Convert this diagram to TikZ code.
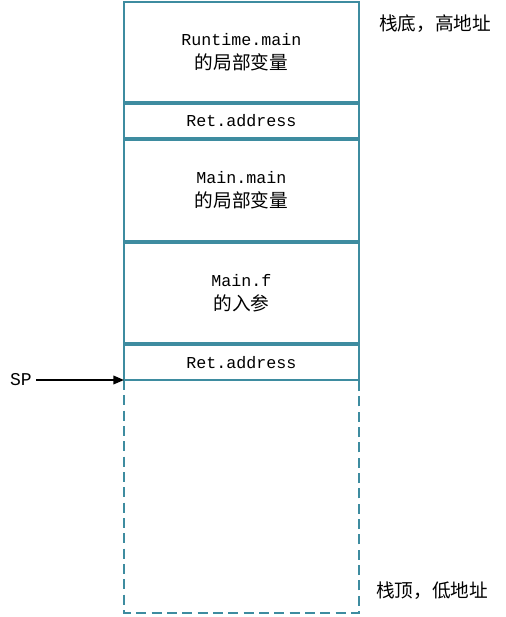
\documentclass[tikz,border=0pt]{standalone}
\usepackage{fontspec}
\setmainfont{Liberation Serif}
\newfontfamily\monofnt{Liberation Mono}
\newfontfamily\cjk{Noto Sans CJK SC}
\usetikzlibrary{arrows.meta}
\definecolor{boxcol}{RGB}{62,140,160}
\begin{document}
\begin{tikzpicture}[x=0.75pt,y=-0.75pt,
  stackbox/.style={draw=boxcol,line width=1pt,inner sep=0pt,outer sep=0pt,
    minimum width=176.25pt,align=center,
    font=\fontsize{12.5pt}{18pt}\selectfont\monofnt},
  cjklbl/.style={font=\fontsize{14pt}{17pt}\selectfont\cjk,inner sep=0pt},
  dashline/.style={draw=boxcol,line width=1pt,dash pattern=on 7.5pt off 4pt},
  sparrow/.style={draw=black,line width=1.2pt,-{Triangle[length=8pt,width=6.5pt]}}]
\useasboundingbox[fill=white] (0,0) rectangle (506,617);
\node[stackbox,minimum height=75pt] (b1) at (241.5,52)
  {Runtime.main\\{\fontsize{14pt}{18pt}\selectfont\cjk 的局部变量}};
\node[stackbox,minimum height=25.5pt] (b2) at (241.5,121) {Ret.address};
\node[stackbox,minimum height=75.75pt] (b3) at (241.5,190.5)
  {Main.main\\{\fontsize{14pt}{18pt}\selectfont\cjk 的局部变量}};
\node[stackbox,minimum height=75pt] (b4) at (241.5,293)
  {Main.f\\{\fontsize{14pt}{18pt}\selectfont\cjk 的入参}};
\node[stackbox,minimum height=26.25pt] (b5) at (241.5,362.5) {Ret.address};
\coordinate (bl) at (124,613);
\coordinate (br) at (359,613);
\path[dashline] (b5.south west) -- (bl) -- (br) -- (b5.south east);
\node[font=\fontsize{13.5pt}{15pt}\selectfont\monofnt,anchor=east,inner sep=0pt] (sp) at (32,380) {SP};
\coordinate (spstart) at (36,380);
\draw[sparrow] (spstart) -- (b5.south west);
\node[cjklbl] (top) at (435,24) {栈底，高地址};
\node[cjklbl] (bot) at (432,591) {栈顶，低地址};
\end{tikzpicture}
\end{document}
